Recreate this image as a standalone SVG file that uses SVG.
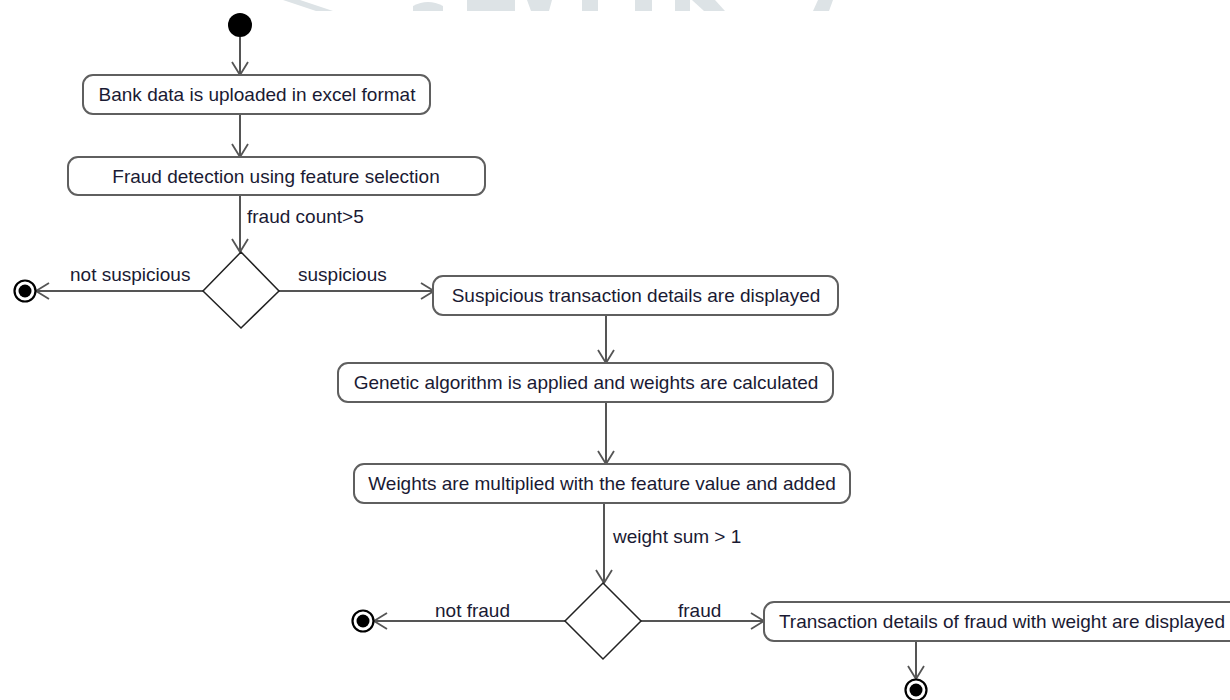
<svg xmlns="http://www.w3.org/2000/svg" width="1230" height="700" viewBox="0 0 1230 700">
<style>
.box{fill:#fff;stroke:#5f5f5f;stroke-width:2}
.dia{fill:#fff;stroke:#222;stroke-width:1.5}
.t{font-family:"Liberation Sans",Arial,sans-serif;font-size:19px;fill:#1a1a33}
.c{text-anchor:middle}
.edge{stroke:#555;stroke-width:2;fill:none}
.wm{fill:#dde3e6}
</style>
<defs>
<marker id="arr" markerWidth="16" markerHeight="20" refX="14" refY="10" orient="auto" markerUnits="userSpaceOnUse">
<path d="M1,2 L14,10 L1,18" fill="none" stroke="#555" stroke-width="1.8"/>
</marker>
<g id="finalShape">
<circle r="10.5" fill="#fff" stroke="#000" stroke-width="2.2"/>
<circle r="6.5" fill="#000"/>
</g>
</defs>
<rect width="1230" height="700" fill="#fff"/>
<g id="watermark">
<polygon class="wm" points="283,0 300,0 333,11 316,11"/>
<path class="wm" d="M413,11 L413,6 Q428,-2 443,6 L443,11 Z"/>
<rect class="wm" x="467" y="0" width="48" height="11"/>
<polygon class="wm" points="527,0 552,0 549,11 531,11"/>
<rect class="wm" x="582" y="0" width="16" height="11"/>
<rect class="wm" x="635" y="0" width="17" height="11"/>
<rect class="wm" x="675" y="0" width="15" height="11"/>
<polygon class="wm" points="692,0 715,0 725,11 704,11"/>
<polygon class="wm" points="818,0 833,0 829,11 813,11"/>
</g>
<g id="connectors">
<line class="edge" x1="240" y1="37" x2="240" y2="75" marker-end="url(#arr)"/>
<line class="edge" x1="240" y1="114" x2="240" y2="157" marker-end="url(#arr)"/>
<line class="edge" x1="240" y1="195" x2="240" y2="252" marker-end="url(#arr)"/>
<line class="edge" x1="203" y1="291" x2="36" y2="291" marker-end="url(#arr)"/>
<line class="edge" x1="279" y1="291" x2="434" y2="291" marker-end="url(#arr)"/>
<line class="edge" x1="606" y1="315" x2="606" y2="363" marker-end="url(#arr)"/>
<line class="edge" x1="606" y1="402" x2="606" y2="464" marker-end="url(#arr)"/>
<line class="edge" x1="604" y1="503" x2="604" y2="583" marker-end="url(#arr)"/>
<line class="edge" x1="565" y1="621" x2="374" y2="621" marker-end="url(#arr)"/>
<line class="edge" x1="641" y1="621" x2="764" y2="621" marker-end="url(#arr)"/>
<line class="edge" x1="916" y1="641" x2="916" y2="679" marker-end="url(#arr)"/>
<text class="t" x="247" y="223">fraud count&gt;5</text>
<text class="t" x="70" y="281">not suspicious</text>
<text class="t" x="298" y="281">suspicious</text>
<text class="t" x="613" y="543">weight sum &gt; 1</text>
<text class="t" x="435" y="617">not fraud</text>
<text class="t" x="678" y="617">fraud</text>
</g>
<g id="start"><circle cx="240" cy="25" r="12" fill="#000"/></g>
<g id="n1"><rect class="box" x="83" y="75" width="347" height="39" rx="10"/><text class="t c" x="257" y="101">Bank data is uploaded in excel format</text></g>
<g id="n2"><rect class="box" x="68" y="157" width="417" height="38" rx="10"/><text class="t c" x="276" y="183">Fraud detection using feature selection</text></g>
<g id="d1"><polygon class="dia" points="241,252 279,291 241,328 203,291"/></g>
<g id="end1"><use href="#finalShape" x="25" y="291"/></g>
<g id="n3"><rect class="box" x="433" y="276" width="405" height="39" rx="10"/><text class="t c" x="636" y="302">Suspicious transaction details are displayed</text></g>
<g id="n4"><rect class="box" x="338" y="363" width="495" height="39" rx="10"/><text class="t c" x="586" y="389">Genetic algorithm is applied and weights are calculated</text></g>
<g id="n5"><rect class="box" x="354" y="464" width="496" height="39" rx="10"/><text class="t c" x="602" y="490">Weights are multiplied with the feature value and added</text></g>
<g id="d2"><polygon class="dia" points="603,583 641,621 603,659 565,621"/></g>
<g id="end2"><use href="#finalShape" x="363" y="621"/></g>
<g id="n6"><rect class="box" x="764" y="602" width="478" height="39" rx="10"/><text class="t c" x="1002" y="628">Transaction details of fraud with weight are displayed</text></g>
<g id="end3"><use href="#finalShape" x="916" y="690"/></g>
</svg>
